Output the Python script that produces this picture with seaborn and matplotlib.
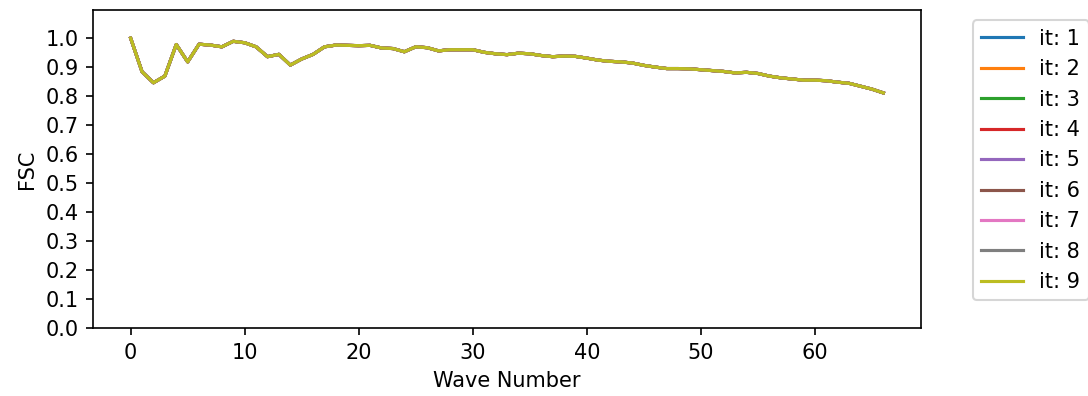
import numpy as np
import pandas as pd
import matplotlib
matplotlib.use("Agg")
import matplotlib.pyplot as plt
import seaborn as sns

# FSC per wave number (identical for every refinement iteration)
fsc = [1.000, 0.884, 0.846, 0.869, 0.978, 0.918, 0.979, 0.976, 0.970, 0.989,
       0.984, 0.970, 0.936, 0.944, 0.907, 0.928, 0.944, 0.970, 0.976, 0.975,
       0.974, 0.975, 0.966, 0.964, 0.953, 0.970, 0.967, 0.956, 0.960, 0.960,
       0.960, 0.951, 0.946, 0.943, 0.948, 0.946, 0.940, 0.936, 0.938, 0.937,
       0.931, 0.924, 0.920, 0.918, 0.914, 0.906, 0.900, 0.895, 0.895, 0.894,
       0.891, 0.888, 0.885, 0.880, 0.882, 0.878, 0.869, 0.863, 0.859, 0.855,
       0.855, 0.853, 0.848, 0.844, 0.834, 0.824, 0.811]
wave_number = list(range(len(fsc)))
iterations = [1, 2, 3, 4, 5, 6, 7, 8, 9]
y_ticks = [0.0, 0.1, 0.2, 0.3, 0.4, 0.5, 0.6, 0.7, 0.8, 0.9, 1.0]

palette = sns.color_palette("tab10", len(iterations))

DPI = 150
W, H = 1088, 396
fig = plt.figure(figsize=(W / DPI, H / DPI), dpi=DPI)
ax = fig.add_axes([93 / W, (H - 328) / H, 828 / W, 318 / H])

for i, it in enumerate(iterations):
    df = pd.DataFrame({"Wave Number": wave_number, "FSC": fsc})
    sns.lineplot(data=df, x="Wave Number", y="FSC", ax=ax,
                 color=palette[i], linewidth=1.5, label=f"it: {it}")

ax.set_ylim(0, 1.097)
ax.set_yticks(y_ticks)
ax.set_xlabel("Wave Number", fontsize=10)
ax.set_ylabel("FSC", fontsize=10)
ax.tick_params(labelsize=10)

ax.legend(loc="upper left", bbox_to_anchor=(1.05, 1), fontsize=10)

fig.savefig("out.png", dpi=DPI)
